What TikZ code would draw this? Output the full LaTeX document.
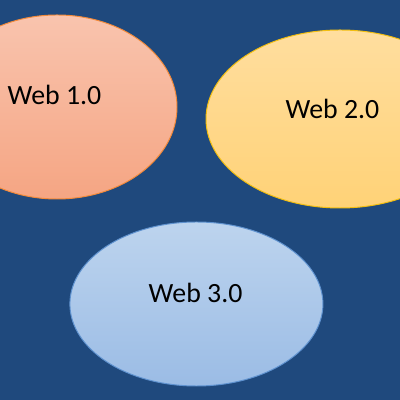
\documentclass[tikz,border=0pt]{standalone}
\usepackage{fontspec}
\setmainfont{Carlito}
\usepackage{tikz}
\usetikzlibrary{shapes.geometric}
\definecolor{bgblue}{HTML}{1F497D}
\definecolor{salmonT}{HTML}{F9C4AE}
\definecolor{salmonB}{HTML}{F5A583}
\definecolor{salmonL}{HTML}{F38A3A}
\definecolor{goldT}{HTML}{FFDE9F}
\definecolor{goldB}{HTML}{FFD277}
\definecolor{goldL}{HTML}{F2BE10}
\definecolor{skyT}{HTML}{BDD4EE}
\definecolor{skyB}{HTML}{9BBCE5}
\definecolor{skyL}{HTML}{5F92CF}

\begin{document}
\begin{tikzpicture}[
  bubble/.style={ellipse,inner sep=0pt,line width=0.7pt},
  lbl/.style={font=\fontsize{19.8}{22}\selectfont,text=black,inner sep=0pt}
]
\useasboundingbox (0,0) rectangle (10,10);
\clip (0,0) rectangle (10,10);
\fill[bgblue] (0,0) rectangle (10,10);
\node[bubble,draw=salmonL,top color=salmonT,bottom color=salmonB,
      minimum width=6cm,minimum height=4.6cm] (web1) at (1.425,7.325) {};
\node[bubble,draw=goldL,top color=goldT,bottom color=goldB,
      minimum width=6.7cm,minimum height=4.45cm] (web2) at (8.5,7.025) {};
\node[bubble,draw=skyL,top color=skyT,bottom color=skyB,
      minimum width=6.325cm,minimum height=4.1cm] (web3) at (4.91,2.4) {};
\node[lbl] (t1) at (1.36,7.625) {Web 1.0};
\node[lbl] (t2) at (8.31,7.275) {Web 2.0};
\node[lbl] (t3) at (4.89,2.675) {Web 3.0};
\end{tikzpicture}
\end{document}
